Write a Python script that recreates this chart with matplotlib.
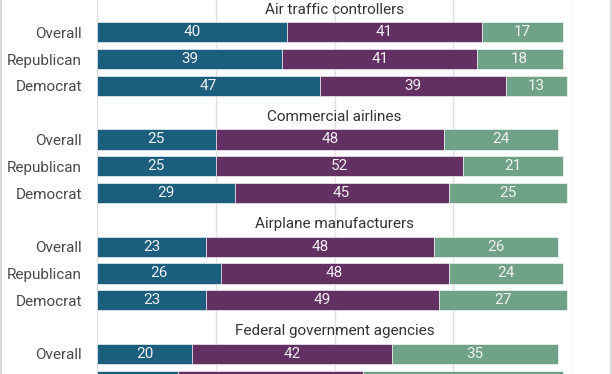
import numpy as np
import matplotlib
matplotlib.use('Agg')
from matplotlib import pyplot as plt
from matplotlib.lines import Line2D

plt.rcParams['font.family'] = ['Roboto', 'DejaVu Sans']

groups = ['Air traffic controllers', 'Commercial airlines',
          'Airplane manufacturers', 'Federal government agencies']
rows = ['Overall', 'Republican', 'Democrat']

# blue / purple / green shares per group (Overall, Republican, Democrat)
# last group is cut off at the bottom of the picture, only two rows visible
blue = [[40, 39, 47], [25, 25, 29], [23, 26, 23], [20, 17]]
purple = [[41, 41, 39], [48, 52, 45], [48, 48, 49], [42, 39]]
green = [[17, 18, 13], [24, 21, 25], [26, 24, 27], [35, 42]]

c_blue = '#1b5e7e'
c_purple = '#633063'
c_green = '#6fa287'

y_bottom = 13.75

fig = plt.figure(figsize=(6.12, 3.74), dpi=100)
ax = fig.add_axes([97/612, 0, 475/612, 1])

ypos = []
ylabels = []
for g in range(len(groups)):
    base = 4*g
    ax.text(50, base + 1 - 0.84, groups[g], ha='center', va='center',
            fontsize=11, color='#333333')
    for r in range(len(blue[g])):
        y = base + 1 + r
        visible = y + 0.3 < y_bottom
        if visible:
            ypos.append(y)
            ylabels.append(rows[r])
        left = 0
        for vals, col in [(blue, c_blue), (purple, c_purple), (green, c_green)]:
            v = vals[g][r]
            ax.barh(y, v, left=left, height=0.75, color=col,
                    edgecolor='white', linewidth=0.4, zorder=3)
            if visible:
                ax.text(left + v/2, y, str(v), ha='center', va='center',
                        fontsize=11, color='#f0f0f0', zorder=4)
            left += v

ax.set_xticks([0, 25, 50, 75, 100])
ax.set_xticklabels([])
ax.grid(axis='x', color='#e0e0e0', linewidth=1, zorder=0)
ax.set_yticks(ypos)
ax.set_yticklabels(ylabels, fontsize=11, color='#4a4a4a')
ax.tick_params(axis='y', length=0, pad=10.8)
ax.tick_params(axis='x', length=0)
ax.set_xlim(0, 100)
ax.set_ylim(y_bottom, -0.205)
for s in ax.spines.values():
    s.set_visible(False)

fig.add_artist(Line2D([0.8/612, 0.8/612], [0, 1], color='#d8d8d8', lw=1.5, transform=fig.transFigure))
fig.add_artist(Line2D([611/612, 611/612], [0, 1], color='#d8d8d8', lw=1.5, transform=fig.transFigure))

plt.savefig('out.png', dpi=100)
plt.close()
